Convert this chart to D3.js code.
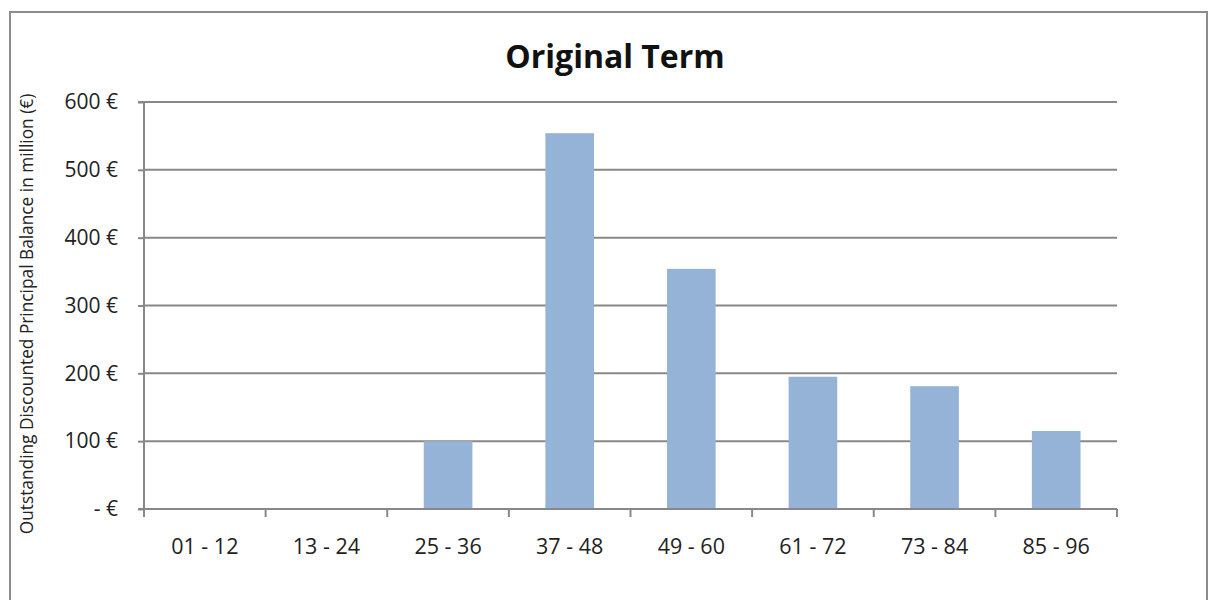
<!DOCTYPE html>
<html><head><meta charset="utf-8">
<script src="https://cdn.jsdelivr.net/npm/d3@7"></script>
<style>body{margin:0;background:#fff}svg{display:block}</style>
</head><body>
<svg id="c" width="1209" height="600"></svg>
<script>
const categories = ["01 - 12","13 - 24","25 - 36","37 - 48","49 - 60","61 - 72","73 - 84","85 - 96"];
const values = [0, 0, 100, 554, 354, 195, 181, 115];
const yTicks = [0, 100, 200, 300, 400, 500, 600];
const title = "Original Term";
const yTitle = "Outstanding Discounted Principal Balance in million (€)";

const svg = d3.select("#c");
const font = "'Open Sans', 'Liberation Sans', sans-serif";
const m = {left:144, right:1117, top:102, bottom:509};
const x = d3.scaleBand().domain(categories).range([m.left, m.right]).paddingInner(0.6).paddingOuter(0.3);
const y = d3.scaleLinear().domain([0, 600]).range([m.bottom, m.top]);

// frame
svg.append("path").attr("d", "M10,601 L10,12 L1207,12 L1207,601")
  .attr("fill","none").attr("stroke","#8c8c8c").attr("stroke-width",2);

// gridlines
svg.append("g").selectAll("line").data(yTicks.filter(d=>d>0)).join("line")
  .attr("x1", m.left).attr("x2", m.right).attr("y1", d=>y(d)).attr("y2", d=>y(d))
  .attr("stroke","#888").attr("stroke-width",2);

// bars
svg.append("g").selectAll("rect").data(values).join("rect")
  .attr("x", (d,i)=>x(categories[i])).attr("width", x.bandwidth())
  .attr("y", d=>y(d)).attr("height", d=>y(0)-y(d))
  .attr("fill","#95b3d7");

// y axis
const yAxis = d3.axisLeft(y).tickValues(yTicks).tickSize(6).tickPadding(20)
  .tickFormat(d => d === 0 ? "- €" : d + " €");
const gy = svg.append("g").attr("transform", `translate(${m.left},0)`).call(yAxis);
gy.select(".domain").attr("stroke","#888").attr("stroke-width",2).attr("d", `M-6,${m.top}H0V${m.bottom}H-6`);
gy.selectAll(".tick line").attr("stroke","#888").attr("stroke-width",2);
gy.selectAll("text").attr("font-family", font).attr("font-size", 21).attr("fill","#222");

// x axis
const xb = d3.scaleLinear().domain([0, categories.length]).range([m.left, m.right]);
const gx = svg.append("g");
gx.append("line").attr("x1", m.left).attr("x2", m.right).attr("y1", m.bottom).attr("y2", m.bottom)
  .attr("stroke","#888").attr("stroke-width",2);
gx.selectAll("line.t").data(d3.range(categories.length + 1)).join("line").attr("class","t")
  .attr("x1", d=>xb(d)).attr("x2", d=>xb(d)).attr("y1", m.bottom).attr("y2", m.bottom + 8)
  .attr("stroke","#888").attr("stroke-width",2);
gx.selectAll("text").data(categories).join("text")
  .attr("x", d=>x(d) + x.bandwidth()/2).attr("y", 554)
  .attr("text-anchor","middle").attr("font-family", font).attr("font-size", 21.5).attr("fill","#222")
  .text(d=>d);

// title
svg.append("text").attr("x", 615).attr("y", 68).attr("text-anchor","middle")
  .attr("font-family", font).attr("font-weight","bold").attr("font-size", 32).attr("fill","#111").text(title);

// y title
svg.append("text").attr("transform", "translate(33,314) rotate(-90)").attr("text-anchor","middle")
  .attr("font-family", font).attr("font-size", 17.3).attr("fill","#222").text(yTitle);
</script>
</body></html>
